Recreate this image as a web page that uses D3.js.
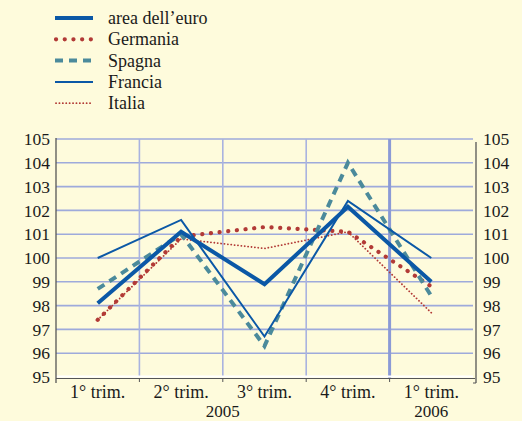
<!DOCTYPE html>
<html><head><meta charset="utf-8">
<script src="https://cdn.jsdelivr.net/npm/d3@7"></script>
<style>
html,body{margin:0;padding:0;background:#fefbdc;}
svg{display:block;}
</style></head>
<body>
<svg id="c" width="522" height="421"></svg>
<script>
const categories = ["1° trim.", "2° trim.", "3° trim.", "4° trim.", "1° trim."];
const years = [{label:"2005", from:0, to:3}, {label:"2006", from:4, to:4}];
const yTicks = [95, 96, 97, 98, 99, 100, 101, 102, 103, 104, 105];
const euro     = [98.1, 101.1, 98.9, 102.15, 99.0];
const germania = [97.4, 100.9, 101.3, 101.1, 98.8];
const spagna   = [98.7, 101.0, 96.3, 104.0, 98.4];
const francia  = [100.0, 101.6, 96.7, 102.4, 100.0];
const italia   = [97.4, 100.8, 100.4, 101.1, 97.7];

const series = [
  {name:"area dell\u2019euro", values:euro,     color:"#0b58a6", width:4,   dash:null, cap:"butt"},
  {name:"Germania",            values:germania, color:"#b23a36", width:4.2, dash:"0.1 8.6", cap:"round"},
  {name:"Spagna",              values:spagna,   color:"#4b8a9b", width:4,   dash:"8 6", cap:"butt"},
  {name:"Francia",             values:francia,  color:"#0b58a6", width:2,   dash:null, cap:"butt"},
  {name:"Italia",              values:italia,   color:"#b23a36", width:1.8, dash:"0.1 3.3", cap:"round"}
];

const FONT = '"Liberation Serif"';
const svg = d3.select("#c");
const L = 56, R = 473, T = 139, B = 377;
const x = d3.scaleBand().domain(d3.range(categories.length)).range([L, R]).paddingInner(0).paddingOuter(0);
const y = d3.scaleLinear().domain([95, 105]).range([B, T]);

// horizontal gridlines
svg.append("g").selectAll("line").data(yTicks.filter(d => d > 95)).join("line")
  .attr("x1", L).attr("x2", R).attr("y1", d => y(d)).attr("y2", d => y(d))
  .attr("stroke", "#9eaadb").attr("stroke-width", 1.6);
// vertical gridlines
svg.append("g").selectAll("line").data(d3.range(1, categories.length).filter(i => i !== 4)).join("line")
  .attr("x1", i => x(i)).attr("x2", i => x(i)).attr("y1", T).attr("y2", B)
  .attr("stroke", "#a9b3e0").attr("stroke-width", 1.6);
// year separator
svg.append("line").attr("x1", x(4)).attr("x2", x(4)).attr("y1", T).attr("y2", B + 1)
  .attr("stroke", "#8b9ad6").attr("stroke-width", 3);

// bottom axis: white line + gray line
svg.append("line").attr("x1", L).attr("x2", R).attr("y1", B - 0.5).attr("y2", B - 0.5)
  .attr("stroke", "#ffffff").attr("stroke-width", 2);
svg.append("line").attr("x1", L).attr("x2", R + 2).attr("y1", B + 1.5).attr("y2", B + 1.5)
  .attr("stroke", "#555").attr("stroke-width", 1);
// category ticks
svg.append("g").selectAll("line").data(d3.range(1, categories.length)).join("line")
  .attr("x1", i => x(i)).attr("x2", i => x(i)).attr("y1", B + 1.5).attr("y2", B + 5)
  .attr("stroke", "#555").attr("stroke-width", 1);
// left axis
svg.append("line").attr("x1", L).attr("x2", L).attr("y1", T - 1).attr("y2", B + 6)
  .attr("stroke", "#555").attr("stroke-width", 1.3);
// right axis
svg.append("line").attr("x1", R + 3).attr("x2", R + 3).attr("y1", T + 3).attr("y2", B + 6)
  .attr("stroke", "#555").attr("stroke-width", 1.3);
svg.append("line").attr("x1", R).attr("x2", R + 3).attr("y1", B + 6).attr("y2", B + 6)
  .attr("stroke", "#555").attr("stroke-width", 1);

// y labels
svg.append("g").selectAll("text").data(yTicks).join("text")
  .attr("x", L - 6).attr("y", d => y(d)).attr("dy", "0.35em").attr("text-anchor", "end")
  .attr("font-size", 17.5).attr("fill", "#1a1a1a").style("font-family", FONT).text(d => d);
svg.append("g").selectAll("text").data(yTicks).join("text")
  .attr("x", R + 10).attr("y", d => y(d)).attr("dy", "0.35em").attr("text-anchor", "start")
  .attr("font-size", 17.5).attr("fill", "#1a1a1a").style("font-family", FONT).text(d => d);

// x labels
svg.append("g").selectAll("text").data(categories).join("text")
  .attr("x", (d, i) => x(i) + x.bandwidth() / 2).attr("y", 398).attr("text-anchor", "middle")
  .attr("font-size", 18).attr("fill", "#1a1a1a").style("font-family", FONT).text(d => d);
svg.append("g").selectAll("text").data(years).join("text")
  .attr("x", d => (x(d.from) + x(d.to) + x.bandwidth()) / 2).attr("y", 417).attr("text-anchor", "middle")
  .attr("font-size", 17).attr("fill", "#1a1a1a").style("font-family", FONT).text(d => d.label);

// series lines
const line = d3.line().x((d, i) => x(i) + x.bandwidth() / 2).y(d => y(d));
const drawOrder = [4, 1, 2, 3, 0];
svg.append("g").selectAll("path").data(drawOrder.map(i => series[i])).join("path")
  .attr("d", s => line(s.values)).attr("fill", "none")
  .attr("stroke", s => s.color).attr("stroke-width", s => s.width)
  .attr("stroke-dasharray", s => s.dash).attr("stroke-linecap", s => s.cap)
  .attr("stroke-linejoin", "miter");

// legend
const lg = svg.append("g").selectAll("g").data(series).join("g")
  .attr("transform", (d, i) => `translate(0, ${18 + i * 21.3})`);
lg.append("line").attr("x1", s => s.cap === "round" ? 56 : 55).attr("x2", 93).attr("y1", 0).attr("y2", 0)
  .attr("stroke", s => s.color).attr("stroke-width", s => s.width)
  .attr("stroke-dasharray", s => s.dash).attr("stroke-linecap", s => s.cap);
lg.append("text").attr("x", 108).attr("y", 0).attr("dy", "0.33em").attr("font-size", 18)
  .attr("fill", "#1a1a1a").style("font-family", FONT).text(s => s.name);
</script>
</body></html>
